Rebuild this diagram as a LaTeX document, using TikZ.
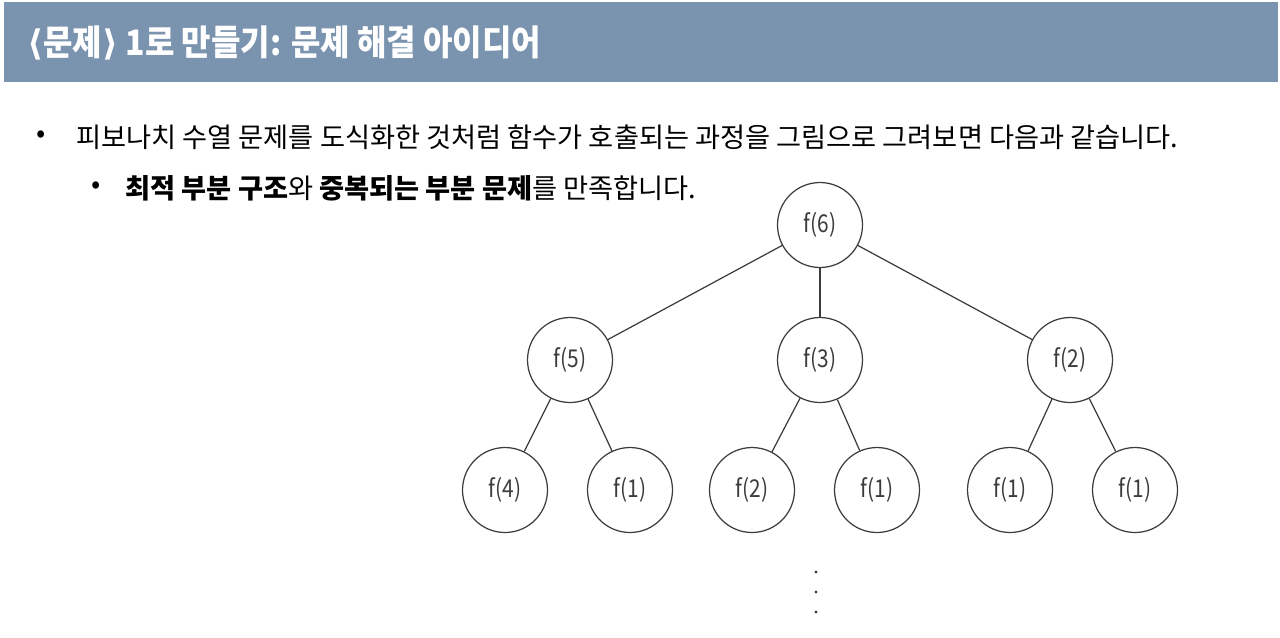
\documentclass[tikz,border=0pt]{standalone}
\usepackage{fontspec}
\setmainfont{Noto Sans CJK KR}
\newfontfamily\titlefont[FakeStretch=0.91]{Noto Sans CJK KR}
\newfontfamily\treefont[FakeStretch=0.85]{Noto Sans CJK KR}
\newfontfamily\brfont{DejaVu Sans}
\definecolor{headblue}{RGB}{122,147,174}
\definecolor{treegray}{RGB}{60,60,60}

\begin{document}
\begin{tikzpicture}[x=0.02cm,y=-0.02cm]
	\tikzset{call/.style={draw=treegray,circle,minimum size=1.7cm,inner sep=0pt,
		font=\treefont\fontsize{14}{16}\selectfont,text=treegray,line width=0.7pt},
		txt/.style={anchor=west,inner sep=0pt,font=\fontsize{15.5}{18}\selectfont}}

	\useasboundingbox (0,0) rectangle (1280,637);
	\fill[headblue] (4,2) rectangle (1278,82);

	\node[anchor=west,inner sep=0pt,text=white,font=\titlefont\bfseries\fontsize{20}{24}\selectfont] (title) at (27,43) {{\brfont⟨}문제{\brfont⟩} 1로 만들기: 문제 해결 아이디어};

	\node[txt] (b1) at (36,137) {•};
	\node[txt] (line1) at (76,137) {피보나치 수열 문제를 도식화한 것처럼 함수가 호출되는 과정을 그림으로 그려보면 다음과 같습니다.};
	\node[txt] (b2) at (91,188) {•};
	\node[txt] (line2) at (125,188) {\textbf{최적 부분 구조}와 \textbf{중복되는 부분 문제}를 만족합니다.};

	\node[call] (f6) at (820,225) {f(6)};
	\node[call] (f5) at (570,360) {f(5)};
	\node[call] (f3) at (820,360) {f(3)};
	\node[call] (f2) at (1070,360) {f(2)};
	\node[call] (f4a) at (505,490) {f(4)};
	\node[call] (f1a) at (630,490) {f(1)};
	\node[call] (f2a) at (752,490) {f(2)};
	\node[call] (f1b) at (877,490) {f(1)};
	\node[call] (f1c) at (1010,490) {f(1)};
	\node[call] (f1d) at (1135,490) {f(1)};

	\draw[treegray,line width=0.7pt] (f6) -- (f5);
	\draw[treegray,line width=0.7pt] (f6) -- (f3);
	\draw[treegray,line width=0.7pt] (f6) -- (f2);
	\draw[treegray,line width=0.7pt] (f5) -- (f4a);
	\draw[treegray,line width=0.7pt] (f5) -- (f1a);
	\draw[treegray,line width=0.7pt] (f3) -- (f2a);
	\draw[treegray,line width=0.7pt] (f3) -- (f1b);
	\draw[treegray,line width=0.7pt] (f2) -- (f1c);
	\draw[treegray,line width=0.7pt] (f2) -- (f1d);

	\foreach \y in {572,592,612}
		\fill[treegray] (816,\y) circle (1.6);

\end{tikzpicture}
\end{document}
